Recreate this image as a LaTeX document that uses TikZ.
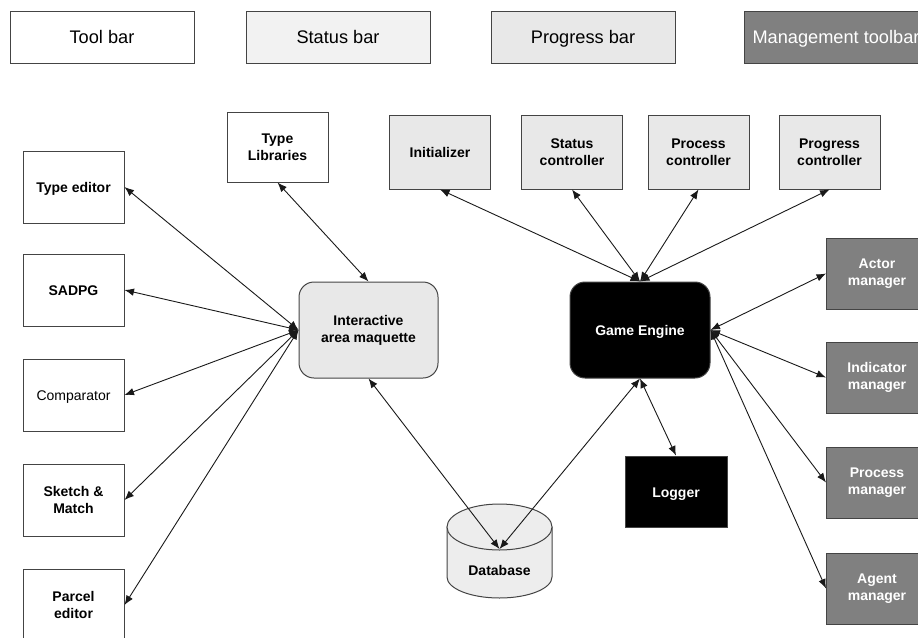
\documentclass[tikz,border=0pt]{standalone}
\usepackage{fontspec}
\setmainfont{Liberation Sans}
\usetikzlibrary{arrows.meta}
\definecolor{lightA}{HTML}{F2F2F2}
\definecolor{lightB}{HTML}{E8E8E8}
\definecolor{dbfill}{HTML}{EDEDED}
\definecolor{darkbox}{HTML}{808080}
\definecolor{edge}{HTML}{444444}
\begin{document}
\begin{tikzpicture}[x=1pt,y=-1pt,
  box/.style={draw=edge, line width=1pt, rectangle, inner sep=0pt, align=center,
    font=\fontsize{14}{17}\selectfont\bfseries, text=black},
  one/.style={text height=12pt, text depth=1pt},
  bar/.style={box, minimum width=184pt, minimum height=52pt,
    font=\fontsize{18.2}{21}\selectfont, text height=14pt, text depth=0.5pt},
  col/.style={box, minimum width=101pt, minimum height=72pt},
  ctrl/.style={box, fill=lightB, minimum width=101pt, minimum height=74pt},
  mgr/.style={box, fill=darkbox, text=white, minimum width=101pt, minimum height=71pt},
  big/.style={box, rounded corners=15pt, minimum width=139pt, minimum height=96pt},
  link/.style={{Latex[length=9.5pt,width=7.5pt]}-{Latex[length=9.5pt,width=7.5pt]}, line width=0.9pt, black!90}
]
\useasboundingbox (0,0) rectangle (918,637);

% top bars
\node[bar] (toolbar) at (102,37) {Tool bar};
\node[bar, fill=lightA] (statusbar) at (338,37) {Status bar};
\node[bar, fill=lightB] (progressbar) at (583,37) {Progress bar};
\node[bar, fill=darkbox, text=white] (mgmt) at (836,37) {Management toolbar};

% left column
\node[col, one] (typeed) at (73.5,187) {Type editor};
\node[col, one] (sadpg) at (73.5,290) {SADPG};
\node[col, one, font=\fontsize{14}{17}\selectfont] (comparator) at (73.5,395) {Comparator};
\node[col] (sketch) at (73.5,500) {Sketch \&\\Match};
\node[col] (parcel) at (73.5,605) {Parcel\\editor};

% type libraries
\node[box, minimum width=101pt, minimum height=70pt] (typelib) at (277.5,147) {Type\\Libraries};

% interactive area maquette
\node[big, fill=lightB] (inter) at (368.5,330) {Interactive\\area maquette};

% controllers
\node[ctrl, one] (init) at (440,152) {Initializer};
\node[ctrl] (statusc) at (572,152) {Status\\controller};
\node[ctrl] (processc) at (698.5,152) {Process\\controller};
\node[ctrl] (progressc) at (829.5,152) {Progress\\controller};

% game engine
\node[big, one, fill=black, text=white, minimum width=140pt] (ge) at (640,330) {Game Engine};

% managers
\node[mgr] (actor) at (877,273.5) {Actor\\manager};
\node[mgr] (indicator) at (877,377.5) {Indicator\\manager};
\node[mgr] (processm) at (877,482.5) {Process\\manager};
\node[mgr] (agent) at (877,588.5) {Agent\\manager};

% logger
\node[box, one, fill=black, text=white, minimum width=102pt, minimum height=71pt] (logger) at (676,491.5) {Logger};

% database
\filldraw[draw=edge, line width=1pt, fill=dbfill]
  (447,527) -- (447,577) arc[start angle=180, end angle=0, x radius=52.5, y radius=21] -- (552,527) -- cycle;
\filldraw[draw=edge, line width=1pt, fill=dbfill] (499.5,527) ellipse[x radius=52.5, y radius=23];
\node[font=\fontsize{14}{17}\selectfont\bfseries, one, inner sep=0pt] (db) at (499.5,570) {Database};
\coordinate (dbtop) at (499.5,549);

% connectors
\draw[link] (inter.west) -- (typeed.east);
\draw[link] (inter.west) -- (sadpg.east);
\draw[link] (inter.west) -- (comparator.east);
\draw[link] (inter.west) -- (sketch.east);
\draw[link] (inter.west) -- (parcel.east);
\draw[link] (inter.north) -- (typelib.south);
\draw[link] (inter.south) -- (dbtop);
\draw[link] (ge.south) -- (dbtop);
\draw[link] (ge.south) -- (logger.north);
\draw[link] (ge.north) -- (init.south);
\draw[link] (ge.north) -- (statusc.south);
\draw[link] (ge.north) -- (processc.south);
\draw[link] (ge.north) -- (progressc.south);
\draw[link] (ge.east) -- (actor.west);
\draw[link] (ge.east) -- (indicator.west);
\draw[link] (ge.east) -- (processm.west);
\draw[link] (ge.east) -- (agent.west);
\end{tikzpicture}
\end{document}
